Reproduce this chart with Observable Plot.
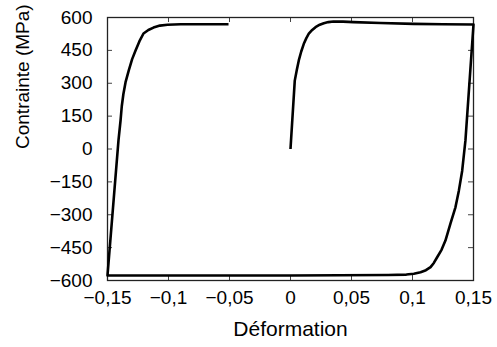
<!DOCTYPE html>
<html>
<head>
<meta charset="utf-8">
<script src="https://cdn.jsdelivr.net/npm/d3@7"></script>
<script src="https://cdn.jsdelivr.net/npm/@observablehq/plot@0.6"></script>
<style>
  html, body { margin: 0; padding: 0; background: #fff; }
  svg { display: block; }
</style>
</head>
<body>
<div id="chart"></div>
<script>
// Tick values
const xTicks = [-0.15, -0.1, -0.05, 0, 0.05, 0.1, 0.15];
const yTicks = [-600, -450, -300, -150, 0, 150, 300, 450, 600];
const xTitle = "Déformation";
const yTitle = "Contrainte (MPa)";

// Stress–strain path (in drawing order): loading, unloading, reverse loading
const strain = [
  0, 0.0035, 0.0052, 0.0068, 0.0088, 0.0109, 0.013, 0.015, 0.0178, 0.0205, 0.024, 0.0273, 0.031, 0.0352, 0.043, 0.0516, 0.0738, 0.1008, 0.125, 0.15,
  0.1434, 0.1407, 0.138, 0.1352, 0.1311, 0.127, 0.1238, 0.1202, 0.1175, 0.1148, 0.111, 0.1066, 0.1011, 0.095, 0.08, 0.0, -0.15,
  -0.141, -0.1393, -0.1383, -0.137, -0.1352, -0.1325, -0.1298, -0.127, -0.1238, -0.1205, -0.1165, -0.1123, -0.107, -0.1008, -0.09, -0.0508
];
const stress = [
  0, 312, 362, 404, 445, 480, 506, 526, 543, 556, 567, 574, 579, 582, 581, 579, 575, 571, 569, 568,
  39, -100, -190, -266, -341, -418, -460, -494, -520, -539, -553, -562, -569, -573, -575, -577, -577,
  39, 130, 195, 250, 305, 360, 410, 449, 492, 527, 543, 554, 563, 567, 569, 569
];

const data = strain.map((x, i) => ({x, y: stress[i]}));
const fmt = d => String(d).replace(".", ",").replace("-", "\u2212");
const font = "Liberation Sans, Arial, sans-serif";

// frame: 497-107-24 = 366 wide, 347-17-67 = 263 tall; inward ticks 5px long
const tickX = {x: d => d, stroke: "#444", strokeWidth: 1};
const tickY = {y: d => d, stroke: "#444", strokeWidth: 1};

const chart = Plot.plot({
  width: 497,
  height: 347,
  marginLeft: 107,
  marginRight: 24,
  marginTop: 17,
  marginBottom: 67,
  style: {fontFamily: font, fontSize: "19px", color: "#000", background: "#fff"},
  x: {domain: [-0.15, 0.15]},
  y: {domain: [-600, 600]},
  marks: [
    // inward ticks on all four sides
    Plot.tickX(xTicks, {...tickX, insetTop: 258}),
    Plot.tickX(xTicks, {...tickX, insetBottom: 258}),
    Plot.tickY(yTicks, {...tickY, insetRight: 361}),
    Plot.tickY(yTicks, {...tickY, insetLeft: 361}),
    // tick labels
    Plot.axisX(xTicks, {anchor: "bottom", tickSize: 0, tickPadding: 10, stroke: "none", tickFormat: fmt, fontSize: 19, label: null}),
    Plot.axisY(yTicks, {anchor: "left", tickSize: 0, tickPadding: 15, stroke: "none", tickFormat: fmt, fontSize: 19, label: null}),
    // axis titles
    Plot.text([xTitle], {text: d => d, frameAnchor: "bottom", lineAnchor: "middle", dy: 49, fontSize: 21}),
    Plot.text([yTitle], {text: d => d, frameAnchor: "left", lineAnchor: "middle", rotate: -90, dx: -85, fontSize: 19}),
    Plot.frame({stroke: "#222", strokeWidth: 1.3}),
    Plot.line(data, {x: "x", y: "y", stroke: "#000", strokeWidth: 2.6, strokeLinejoin: "round", strokeLinecap: "butt"})
  ]
});

document.getElementById("chart").appendChild(chart);
</script>
</body>
</html>
